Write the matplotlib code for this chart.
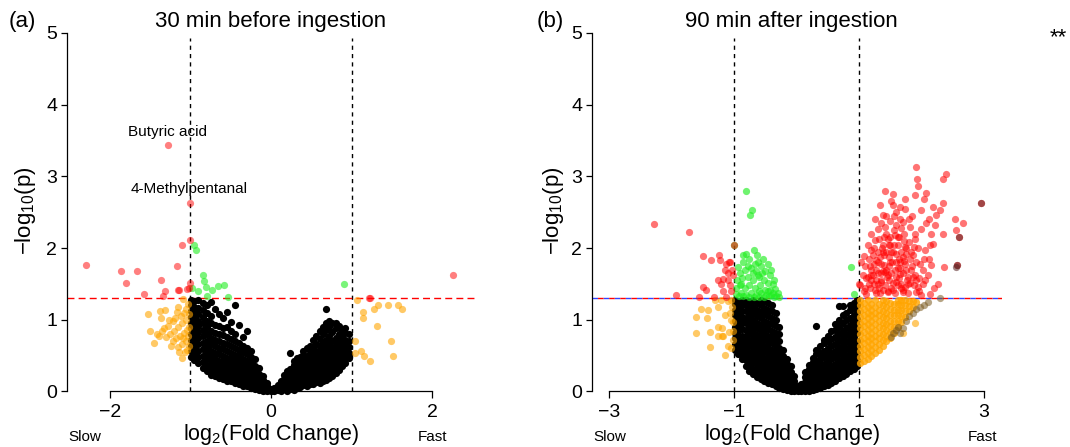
import matplotlib
matplotlib.use("Agg")
import matplotlib.pyplot as plt

plt.rcParams["font.family"] = ["Liberation Sans", "DejaVu Sans"]
plt.rcParams["mathtext.fontset"] = "custom"
plt.rcParams["mathtext.rm"] = "Liberation Sans"
plt.rcParams["mathtext.it"] = "Liberation Sans:italic"

# ---------------- data ----------------
# panel (a): 30 min before ingestion
a_black_cols = {
    -0.99: [0.48, 0.56, 0.64, 0.72, 0.80, 0.88, 0.96, 1.04, 1.12, 1.20, 1.27],
    -0.95: [0.44, 0.52, 0.61, 0.69, 0.77, 0.86, 0.94, 1.02, 1.10, 1.18, 1.26],
    -0.90: [0.40, 0.48, 0.57, 0.66, 0.74, 0.83, 0.91, 0.99, 1.08, 1.16, 1.27],
    -0.85: [0.33, 0.41, 0.50, 0.59, 0.68, 0.77, 0.86, 0.95, 1.04, 1.13, 1.24],
    -0.80: [0.28, 0.36, 0.45, 0.53, 0.62, 0.71, 0.80, 0.90, 0.99, 1.09, 1.20],
    -0.75: [0.23, 0.31, 0.40, 0.48, 0.57, 0.66, 0.75, 0.85, 0.95, 1.05, 1.25],
    -0.70: [0.21, 0.29, 0.37, 0.46, 0.54, 0.63, 0.72, 0.82, 0.93, 1.15],
    -0.65: [0.19, 0.27, 0.35, 0.43, 0.52, 0.61, 0.70, 0.80, 0.92, 1.08],
    -0.60: [0.17, 0.25, 0.33, 0.41, 0.50, 0.59, 0.68, 0.79, 0.88, 1.02],
    -0.55: [0.15, 0.23, 0.31, 0.39, 0.47, 0.56, 0.66, 0.76, 0.90, 1.11],
    -0.50: [0.14, 0.21, 0.29, 0.37, 0.45, 0.54, 0.63, 0.73, 0.84, 0.97],
    -0.45: [0.12, 0.19, 0.27, 0.35, 0.43, 0.51, 0.60, 0.70, 0.80, 1.20],
    -0.40: [0.10, 0.17, 0.25, 0.33, 0.41, 0.49, 0.58, 0.67, 0.93],
    -0.35: [0.08, 0.15, 0.22, 0.30, 0.38, 0.46, 0.55, 0.64, 0.76],
    -0.30: [0.07, 0.13, 0.20, 0.27, 0.35, 0.43, 0.52, 0.60, 0.85],
    -0.25: [0.05, 0.11, 0.18, 0.25, 0.32, 0.40, 0.48, 0.56],
    -0.20: [0.03, 0.09, 0.15, 0.21, 0.28, 0.36, 0.45],
    -0.15: [0.02, 0.07, 0.12, 0.18, 0.25, 0.33],
    -0.10: [0.01, 0.05, 0.10, 0.16, 0.22],
    -0.05: [0.00, 0.04, 0.08, 0.12],
    0.00: [0.01, 0.03],
    0.04: [0.00, 0.05],
    0.08: [0.02, 0.09],
    0.12: [0.00, 0.07, 0.14],
    0.16: [0.03, 0.10, 0.17, 0.23],
    0.20: [0.01, 0.08, 0.15, 0.22, 0.29],
    0.24: [0.04, 0.11, 0.18, 0.25, 0.32, 0.53],
    0.28: [0.02, 0.09, 0.16, 0.23, 0.30, 0.37, 0.42],
    0.32: [0.05, 0.12, 0.19, 0.26, 0.33, 0.40, 0.47],
    0.36: [0.06, 0.13, 0.20, 0.27, 0.34, 0.41, 0.48],
    0.40: [0.09, 0.16, 0.23, 0.30, 0.37, 0.44, 0.51, 0.57],
    0.44: [0.08, 0.15, 0.22, 0.29, 0.36, 0.43, 0.50, 0.60],
    0.48: [0.11, 0.18, 0.25, 0.32, 0.39, 0.46, 0.53, 0.64],
    0.52: [0.10, 0.17, 0.24, 0.31, 0.38, 0.45, 0.52, 0.60, 0.72],
    0.56: [0.13, 0.20, 0.27, 0.34, 0.41, 0.48, 0.56, 0.66, 0.78],
    0.60: [0.12, 0.19, 0.26, 0.33, 0.40, 0.47, 0.55, 0.63, 0.73, 0.84],
    0.64: [0.15, 0.22, 0.29, 0.36, 0.43, 0.51, 0.59, 0.68, 0.80, 0.90],
    0.68: [0.16, 0.23, 0.30, 0.37, 0.45, 0.53, 0.62, 0.72, 0.86, 0.95, 1.15],
    0.72: [0.19, 0.26, 0.33, 0.41, 0.49, 0.58, 0.67, 0.78, 0.90, 0.98],
    0.76: [0.22, 0.29, 0.36, 0.44, 0.52, 0.61, 0.71, 0.83, 0.96],
    0.80: [0.26, 0.33, 0.40, 0.48, 0.56, 0.65, 0.75, 0.88, 0.95],
    0.84: [0.30, 0.37, 0.45, 0.53, 0.61, 0.70, 0.80, 0.92],
    0.88: [0.35, 0.42, 0.50, 0.58, 0.66, 0.75, 0.86],
    0.92: [0.40, 0.47, 0.55, 0.63, 0.72, 0.82, 0.88],
    0.96: [0.47, 0.54, 0.62, 0.70, 0.80],
}
a_orange = [
    (-1.09, 1.29), (-1.53, 1.08), (-1.38, 1.12), (-1.32, 1.13), (-1.37, 1.03),
    (-1.16, 1.18), (-1.17, 1.11), (-1.50, 0.85), (-1.35, 0.84), (-1.45, 0.68),
    (-1.39, 0.77), (-1.24, 0.64), (-1.10, 0.47), (-1.07, 0.55), (-1.28, 0.92),
    (-1.22, 0.98), (-1.12, 1.05), (-1.05, 1.15), (-1.03, 1.22), (-1.20, 0.85),
    (-1.15, 0.90), (-1.10, 0.95), (-1.05, 1.00), (-1.02, 0.90), (-1.08, 0.82),
    (-1.13, 0.78), (-1.18, 0.74), (-1.25, 0.80), (-1.30, 0.76), (-1.03, 0.78),
    (-1.06, 0.70), (-1.11, 0.66), (-1.16, 0.62), (-1.02, 0.64), (-1.04, 0.58),
    (-1.14, 0.55), (-1.02, 1.08), (-1.27, 1.00), (-1.33, 0.88), (-1.19, 1.02),
    (-1.08, 1.10), (-1.22, 0.70), (-1.04, 0.86), (-1.09, 0.75), (-1.42, 0.80),
    (1.06, 1.28), (1.14, 1.11), (1.14, 1.03), (1.27, 1.15), (1.32, 1.20),
    (1.45, 1.21), (1.57, 1.21), (1.62, 1.15), (1.31, 0.92), (1.04, 0.71),
    (1.49, 0.70), (1.04, 0.53), (1.11, 0.56), (1.15, 0.49), (1.23, 0.43),
    (1.51, 0.50),
]
a_green = [
    (-0.95, 2.04), (-0.93, 1.98), (-0.84, 1.63), (-0.83, 1.54), (-0.98, 1.44),
    (-0.90, 1.40), (-0.81, 1.46), (-0.73, 1.42), (-0.66, 1.47), (-0.59, 1.49),
    (-0.80, 1.33), (-0.54, 1.32), (0.90, 1.50),
]
a_red = [
    (-1.28, 3.44), (-1.01, 2.63), (-2.29, 1.76), (-1.86, 1.68), (-1.66, 1.68),
    (-1.80, 1.52), (-1.37, 1.55), (-1.17, 1.75), (-1.57, 1.36), (-1.32, 1.40),
    (-1.34, 1.33), (-1.14, 1.41), (-1.16, 1.42), (-1.04, 1.43), (-1.00, 1.51),
    (-1.11, 2.05), (-1.01, 2.11), (-1.02, 1.45), (2.25, 1.63), (1.21, 1.30),
    (1.22, 1.31),
]
a_labels = [("Butyric acid", -1.29, 3.62), ("4-Methylpentanal", -1.01, 2.83)]

# panel (b): 90 min after ingestion
b_black_cols = {
    -0.98: [0.58, 0.66, 0.74, 0.82, 0.90, 0.98, 1.06, 1.14, 1.22, 1.28],
    -0.93: [0.52, 0.61, 0.69, 0.77, 0.85, 0.93, 1.01, 1.09, 1.17, 1.25],
    -0.87: [0.45, 0.53, 0.62, 0.70, 0.78, 0.87, 0.95, 1.04, 1.12, 1.20, 1.28],
    -0.81: [0.36, 0.44, 0.52, 0.61, 0.69, 0.78, 0.86, 0.95, 1.03, 1.12, 1.21, 1.28],
    -0.75: [0.29, 0.37, 0.46, 0.54, 0.63, 0.71, 0.80, 0.88, 0.97, 1.05, 1.14, 1.23],
    -0.69: [0.24, 0.32, 0.41, 0.49, 0.58, 0.66, 0.75, 0.83, 0.92, 1.00, 1.09, 1.18, 1.28],
    -0.63: [0.20, 0.28, 0.37, 0.45, 0.54, 0.62, 0.71, 0.79, 0.88, 0.96, 1.05, 1.14, 1.23],
    -0.57: [0.17, 0.25, 0.33, 0.42, 0.50, 0.59, 0.67, 0.76, 0.84, 0.93, 1.02, 1.11, 1.20, 1.28],
    -0.51: [0.15, 0.23, 0.31, 0.39, 0.47, 0.56, 0.64, 0.73, 0.81, 0.90, 0.99, 1.08, 1.17, 1.26],
    -0.45: [0.12, 0.20, 0.28, 0.36, 0.44, 0.52, 0.61, 0.69, 0.78, 0.87, 0.96, 1.05, 1.14, 1.24],
    -0.39: [0.10, 0.18, 0.26, 0.34, 0.42, 0.50, 0.58, 0.67, 0.76, 0.85, 0.94, 1.03, 1.12, 1.20],
    -0.33: [0.08, 0.15, 0.23, 0.31, 0.39, 0.47, 0.55, 0.64, 0.73, 0.82, 0.91, 1.00, 1.10],
    -0.27: [0.05, 0.12, 0.20, 0.28, 0.36, 0.44, 0.52, 0.61, 0.70, 0.80, 0.90],
    -0.21: [0.03, 0.10, 0.17, 0.25, 0.33, 0.41, 0.50, 0.58],
    -0.15: [0.02, 0.08, 0.15, 0.22, 0.30, 0.38, 0.46],
    -0.09: [0.01, 0.06, 0.12, 0.19, 0.27, 0.35],
    -0.03: [0.00, 0.04, 0.09, 0.15, 0.22],
    0.02: [0.00, 0.03, 0.08],
    0.08: [0.00, 0.05, 0.10],
    0.14: [0.00, 0.06, 0.13, 0.20, 0.27],
    0.20: [0.01, 0.08, 0.15, 0.23, 0.31, 0.37],
    0.26: [0.02, 0.09, 0.17, 0.25, 0.33, 0.41, 0.47],
    0.32: [0.04, 0.11, 0.19, 0.27, 0.35, 0.43, 0.52, 0.58, 0.91],
    0.38: [0.05, 0.13, 0.21, 0.29, 0.37, 0.45, 0.54, 0.63],
    0.44: [0.07, 0.15, 0.23, 0.31, 0.39, 0.48, 0.57, 0.67, 0.72],
    0.50: [0.09, 0.17, 0.25, 0.33, 0.42, 0.51, 0.60, 0.70, 0.78],
    0.56: [0.12, 0.20, 0.28, 0.36, 0.45, 0.54, 0.63, 0.73, 0.84],
    0.62: [0.15, 0.23, 0.31, 0.39, 0.48, 0.57, 0.66, 0.76, 0.86, 0.94],
    0.68: [0.19, 0.27, 0.35, 0.43, 0.52, 0.61, 0.70, 0.80, 0.90, 1.00, 1.19],
    0.74: [0.22, 0.30, 0.38, 0.47, 0.56, 0.65, 0.75, 0.85, 0.96, 1.07, 1.19],
    0.80: [0.25, 0.33, 0.41, 0.50, 0.59, 0.69, 0.79, 0.89, 1.00, 1.10],
    0.86: [0.28, 0.36, 0.45, 0.54, 0.63, 0.73, 0.83, 0.93, 1.03, 1.13, 1.20],
    0.92: [0.32, 0.40, 0.49, 0.58, 0.67, 0.77, 0.87, 0.97, 1.07, 1.17, 1.24],
    0.97: [0.36, 0.44, 0.53, 0.62, 0.71, 0.81, 0.91, 1.01, 1.11, 1.21, 1.28],
}
b_orange_cols = {
    1.02: [0.40, 0.48, 0.56, 0.64, 0.72, 0.80, 0.88, 0.96, 1.04, 1.12, 1.20, 1.28],
    1.08: [0.43, 0.51, 0.59, 0.67, 0.75, 0.83, 0.91, 0.99, 1.07, 1.15, 1.23],
    1.14: [0.46, 0.54, 0.62, 0.70, 0.78, 0.86, 0.94, 1.02, 1.10, 1.18, 1.27],
    1.20: [0.50, 0.58, 0.66, 0.74, 0.82, 0.90, 0.98, 1.06, 1.14, 1.22],
    1.26: [0.54, 0.62, 0.70, 0.78, 0.86, 0.94, 1.02, 1.10, 1.18, 1.27],
    1.32: [0.58, 0.66, 0.74, 0.82, 0.90, 0.98, 1.06, 1.14, 1.22],
    1.38: [0.64, 0.72, 0.80, 0.88, 0.96, 1.04, 1.12, 1.20, 1.28],
    1.44: [0.70, 0.78, 0.86, 0.94, 1.02, 1.10, 1.18, 1.26],
    1.50: [0.75, 0.83, 0.91, 0.99, 1.07, 1.15, 1.23],
    1.56: [0.82, 0.90, 0.98, 1.06, 1.14, 1.22],
    1.62: [0.90, 0.98, 1.06, 1.14, 1.22, 1.28],
    1.68: [0.97, 1.05, 1.13, 1.21, 1.28],
    1.74: [1.04, 1.12, 1.20, 1.27],
    1.80: [1.12, 1.19, 1.26],
    1.86: [1.18, 1.26],
    1.92: [1.25],
}
b_orange = [
    (1.90, 0.95), (1.70, 0.81),
    (-1.52, 1.15), (-1.41, 1.13), (-1.25, 1.18), (-1.15, 1.07), (-1.60, 1.04),
    (-1.43, 1.02), (-1.25, 0.90), (-1.19, 0.89), (-1.60, 0.81), (-1.38, 0.83),
    (-1.25, 0.77), (-1.19, 0.77), (-1.08, 0.83), (-1.02, 0.84), (-1.38, 0.62),
    (-1.09, 0.64), (-1.14, 0.51), (-1.02, 0.97), (-1.05, 1.28), (-1.10, 1.26),
    (-1.03, 1.18), (-1.07, 1.10), (-1.02, 0.72), (-1.04, 1.00), (-1.30, 1.28),
    (-1.20, 1.27), (-1.04, 0.60), (-1.18, 0.78),
]
b_brown = [
    (1.52, 0.76), (1.55, 0.82), (1.60, 0.86), (1.62, 0.90), (1.66, 0.82),
    (1.70, 0.89), (1.76, 0.98), (1.80, 1.05), (1.86, 1.09), (1.92, 1.15),
    (1.98, 1.18), (2.04, 1.20), (2.10, 1.25), (2.30, 1.30),
]
b_green = [
    (-0.81, 2.79), (-0.71, 2.53), (-0.74, 2.46), (-1.00, 2.05),
    (-0.80, 1.92), (-0.68, 1.97), (-0.53, 1.85), (-0.45, 1.78), (-0.93, 1.74),
    (-0.85, 1.80), (-0.75, 1.85), (-0.62, 1.80), (-0.57, 1.75), (-0.90, 1.65),
    (-0.82, 1.70), (-0.72, 1.72), (-0.65, 1.68), (-0.50, 1.68), (-0.42, 1.62),
    (-0.95, 1.55), (-0.87, 1.58), (-0.78, 1.60), (-0.70, 1.55), (-0.60, 1.60),
    (-0.52, 1.55), (-0.46, 1.52), (-0.38, 1.50), (-0.97, 1.45), (-0.90, 1.48),
    (-0.83, 1.45), (-0.75, 1.48), (-0.66, 1.45), (-0.58, 1.48), (-0.50, 1.42),
    (-0.42, 1.42), (-0.34, 1.43), (-0.30, 1.38), (-0.96, 1.36), (-0.88, 1.38),
    (-0.80, 1.35), (-0.72, 1.38), (-0.64, 1.35), (-0.56, 1.37), (-0.48, 1.34),
    (-0.40, 1.34), (-0.33, 1.33), (-0.27, 1.32), (-0.92, 1.33), (-0.85, 1.33),
    (-0.76, 1.32), (-0.68, 1.32), (-0.60, 1.32), (-0.52, 1.32), (-0.44, 1.33),
    (-0.36, 1.32), (-0.86, 1.90), (-0.63, 1.90), (-0.40, 1.70), (-0.35, 1.55),
    (-0.70, 1.65), (-0.62, 1.62), (-0.55, 1.65), (-0.78, 1.75), (-0.66, 1.78),
    (-0.88, 1.50), (-0.60, 1.40), (-0.46, 1.40), (-0.38, 1.38),
    (0.88, 1.74), (0.92, 1.36),
]
b_red = [
    # slower side
    (-2.28, 2.34), (-1.72, 2.23), (-1.49, 1.89), (-1.36, 1.84), (-1.24, 1.91),
    (-1.23, 1.84), (-1.12, 1.78), (-1.08, 1.80), (-1.14, 1.69), (-1.26, 1.56),
    (-1.17, 1.57), (-1.09, 1.55), (-1.50, 1.46), (-1.44, 1.42), (-1.20, 1.50),
    (-1.07, 1.48), (-1.92, 1.34), (-1.56, 1.32), (-1.32, 1.32), (-1.13, 1.32),
    (-1.06, 1.81), (-1.02, 1.62), (-1.04, 1.40), (-1.00, 2.05), (-1.10, 1.65),
    (-1.18, 1.40), (-1.03, 1.70),
    # faster side
    (1.00, 1.50), (1.91, 3.13), (2.40, 3.04), (2.34, 2.96), (1.93, 2.97),
    (1.95, 2.86), (1.42, 2.80), (1.54, 2.75), (1.90, 2.74), (2.08, 2.77),
    (1.74, 2.68), (1.51, 2.66), (1.34, 2.60), (1.66, 2.57), (2.04, 2.68),
    (2.35, 2.63), (2.19, 2.57), (2.30, 2.53), (2.00, 2.53), (1.60, 2.50),
    (1.39, 2.46), (2.12, 2.41), (2.24, 2.46), (2.54, 2.40), (2.66, 2.35),
    (2.96, 2.63), (1.71, 2.36), (1.50, 2.38), (1.31, 2.26), (1.82, 2.29),
    (2.00, 2.27), (2.22, 2.32), (2.56, 2.25), (2.61, 2.16), (2.35, 2.19),
    (2.16, 2.20), (1.44, 2.20), (1.63, 2.15), (1.90, 2.12), (1.26, 2.11),
    (1.50, 2.04), (1.74, 2.02), (2.19, 2.06), (2.06, 1.97), (1.20, 1.98),
    (1.39, 1.95), (1.60, 1.92), (1.87, 1.90), (1.08, 1.89), (1.04, 1.81),
    (1.28, 1.83), (1.50, 1.81), (1.74, 1.78), (1.98, 1.78), (2.16, 1.76),
    (2.36, 1.73), (2.57, 1.76), (1.20, 1.69), (1.42, 1.67), (1.66, 1.64),
    (1.90, 1.63), (2.11, 1.62), (1.19, 1.55), (1.36, 1.53), (1.60, 1.53),
    (1.82, 1.51), (2.03, 1.50), (2.27, 1.50), (1.02, 1.49), (1.26, 1.41),
    (1.47, 1.39), (1.71, 1.39), (1.92, 1.39), (2.14, 1.36), (1.12, 1.36),
    (1.10, 1.45), (1.15, 1.60), (1.18, 1.75), (1.22, 1.90), (1.25, 2.00),
    (1.30, 1.65), (1.33, 1.45), (1.35, 1.78), (1.38, 2.05), (1.40, 1.90),
    (1.42, 2.30), (1.45, 1.60), (1.48, 1.75), (1.50, 2.15), (1.52, 1.45),
    (1.55, 1.95), (1.56, 2.25), (1.58, 1.70), (1.62, 2.05), (1.64, 1.85),
    (1.66, 2.40), (1.68, 1.45), (1.70, 1.65), (1.72, 2.20), (1.75, 1.92),
    (1.77, 1.55), (1.80, 2.08), (1.83, 1.70), (1.85, 2.45), (1.88, 1.48),
    (1.92, 1.80), (1.95, 2.00), (1.97, 1.40), (2.02, 1.70), (2.06, 1.55),
    (2.08, 2.35), (2.12, 1.85), (2.20, 1.45), (1.16, 1.50), (1.28, 1.38),
    (1.36, 1.55), (1.46, 1.40), (1.58, 1.38), (1.64, 1.58), (1.78, 1.38),
    (1.86, 1.60), (2.00, 1.35), (1.06, 1.62), (1.10, 1.75), (1.14, 2.05),
    (1.20, 2.20), (1.26, 2.40), (1.32, 2.12), (1.44, 2.45), (1.54, 2.60),
    (1.60, 2.32), (1.68, 2.28), (1.74, 2.55), (1.80, 2.40), (1.48, 1.88),
    (1.52, 1.65), (1.38, 1.68), (1.30, 1.95), (1.24, 1.78), (1.42, 1.48),
    (1.60, 1.80), (1.68, 1.95), (1.72, 1.82), (1.84, 1.95), (1.90, 2.20),
    (1.96, 1.58), (2.04, 1.85), (2.14, 2.05), (1.36, 2.35), (1.56, 2.45),
    (1.76, 2.00), (1.66, 1.72), (1.48, 2.05), (1.28, 1.55), (1.18, 1.45),
    (1.08, 1.40), (1.34, 1.38), (1.54, 1.52), (1.74, 1.46), (1.94, 1.46),
    (1.12, 1.58), (1.16, 1.85), (1.22, 1.62), (1.27, 1.70), (1.31, 1.50),
    (1.34, 1.88), (1.37, 2.00), (1.41, 1.76), (1.44, 1.95), (1.46, 2.12),
    (1.49, 1.55), (1.53, 1.80), (1.57, 2.05), (1.59, 1.60), (1.62, 1.72),
    (1.65, 2.15), (1.67, 1.50), (1.70, 1.88), (1.73, 2.10), (1.76, 1.70),
    (1.79, 1.60), (1.82, 1.85), (1.85, 1.75), (1.88, 2.02), (1.91, 1.55),
    (1.44, 1.70), (1.35, 1.65), (1.52, 1.95), (1.58, 2.18), (1.40, 2.15),
    (1.30, 1.80), (1.24, 1.50), (1.66, 1.80), (1.78, 1.50), (1.47, 1.62),
    (1.55, 1.42), (1.62, 1.48), (1.70, 1.42), (1.38, 1.42), (1.20, 1.62),
]
b_darkred = [(2.96, 2.63), (2.61, 2.16), (2.57, 1.76), (2.55, 1.73)]

fc_line = 1.0          # |log2 FC| cut-off
p_line = 1.301         # -log10(0.05)


def expand(cols):
    return [(x, y) for x, ys in cols.items() for y in ys]


def dots(ax, pts, color, alpha=1.0, z=3):
    xs, ys = zip(*pts)
    ax.scatter(xs, ys, s=27, c=color, alpha=alpha, linewidths=0,
               zorder=z, clip_on=False)


def style(ax, xlim, xticks):
    ax.set_xlim(*xlim)
    ax.set_ylim(0, 5)
    ax.patch.set_alpha(0)
    for side in ("top", "right"):
        ax.spines[side].set_visible(False)
    ax.spines["left"].set_bounds(0, 5)
    ax.spines["bottom"].set_bounds(xticks[0], xticks[-1])
    for side in ("left", "bottom"):
        ax.spines[side].set_linewidth(0.9)
    ax.set_xticks(xticks)
    ax.set_yticks(range(6))
    ax.tick_params(axis="y", length=4, width=0.9, pad=3, labelsize=14)
    ax.tick_params(axis="x", length=5, width=0.9, pad=4, labelsize=14)
    for x in (-fc_line, fc_line):
        ax.plot([x, x], [0, 4.93], color="k", lw=1, ls=(0, (3, 3)), zorder=1)


fig = plt.figure(figsize=(10.7, 4.47), dpi=100)
ax_a = fig.add_axes([0.0626, 0.1242, 0.3823, 0.802])
ax_b = fig.add_axes([0.5533, 0.1242, 0.3831, 0.802])

# panel (a)
style(ax_a, (-2.53, 2.54), [-2, 0, 2])
ax_a.axhline(p_line, color="red", lw=1, ls=(0, (5, 3)), zorder=1)
dots(ax_a, expand(a_black_cols), "black")
dots(ax_a, a_orange, "#ffa500", 0.6)
dots(ax_a, a_green, "#22ee22", 0.6)
dots(ax_a, a_red, "red", 0.5)
for txt, x, y in a_labels:
    ax_a.text(x, y, txt, ha="center", va="center", fontsize=11)

# panel (b)
style(ax_b, (-3.27, 3.29), [-3, -1, 1, 3])
ax_b.axhline(p_line, color="#3344ff", lw=1, ls=(0, (4, 4)), zorder=1)
ax_b.axhline(p_line, color="red", lw=1, ls=(4, (4, 4)), zorder=1)
dots(ax_b, expand(b_black_cols), "black")
dots(ax_b, expand(b_orange_cols), "#ffa500", 0.8)
dots(ax_b, b_orange, "#ffa500", 0.6)
dots(ax_b, b_brown, "#7a5a20", 0.55)
dots(ax_b, b_green, "#22ee22", 0.65)
dots(ax_b, b_red, "red", 0.55)
dots(ax_b, b_darkred, "#552222", 0.55, z=4)

# titles, axis labels and side notes
for cx, tag, title, lx, slow, fast in [
    (0.253, "(a)", "30 min before ingestion", 0.021, 0.079, 0.404),
    (0.740, "(b)", "90 min after ingestion", 0.514, 0.570, 0.918),
]:
    fig.text(cx, 0.951, title, ha="center", va="center", fontsize=16)
    fig.text(lx, 0.951, tag, ha="center", va="center", fontsize=16)
    fig.text(cx, 0.027, r"log$_2$(Fold Change)", ha="center", va="center",
             fontsize=15.5)
    fig.text(slow, 0.022, "Slow", ha="center", va="center", fontsize=11)
    fig.text(fast, 0.022, "Fast", ha="center", va="center", fontsize=11)
    fig.text(lx + 0.003, 0.528, r"−log$_{10}$(p)", ha="center", va="center",
             rotation=90, fontsize=16)

fig.text(0.989, 0.915, "**", ha="center", va="center", fontsize=16)

fig.savefig("out.png", dpi=100)
